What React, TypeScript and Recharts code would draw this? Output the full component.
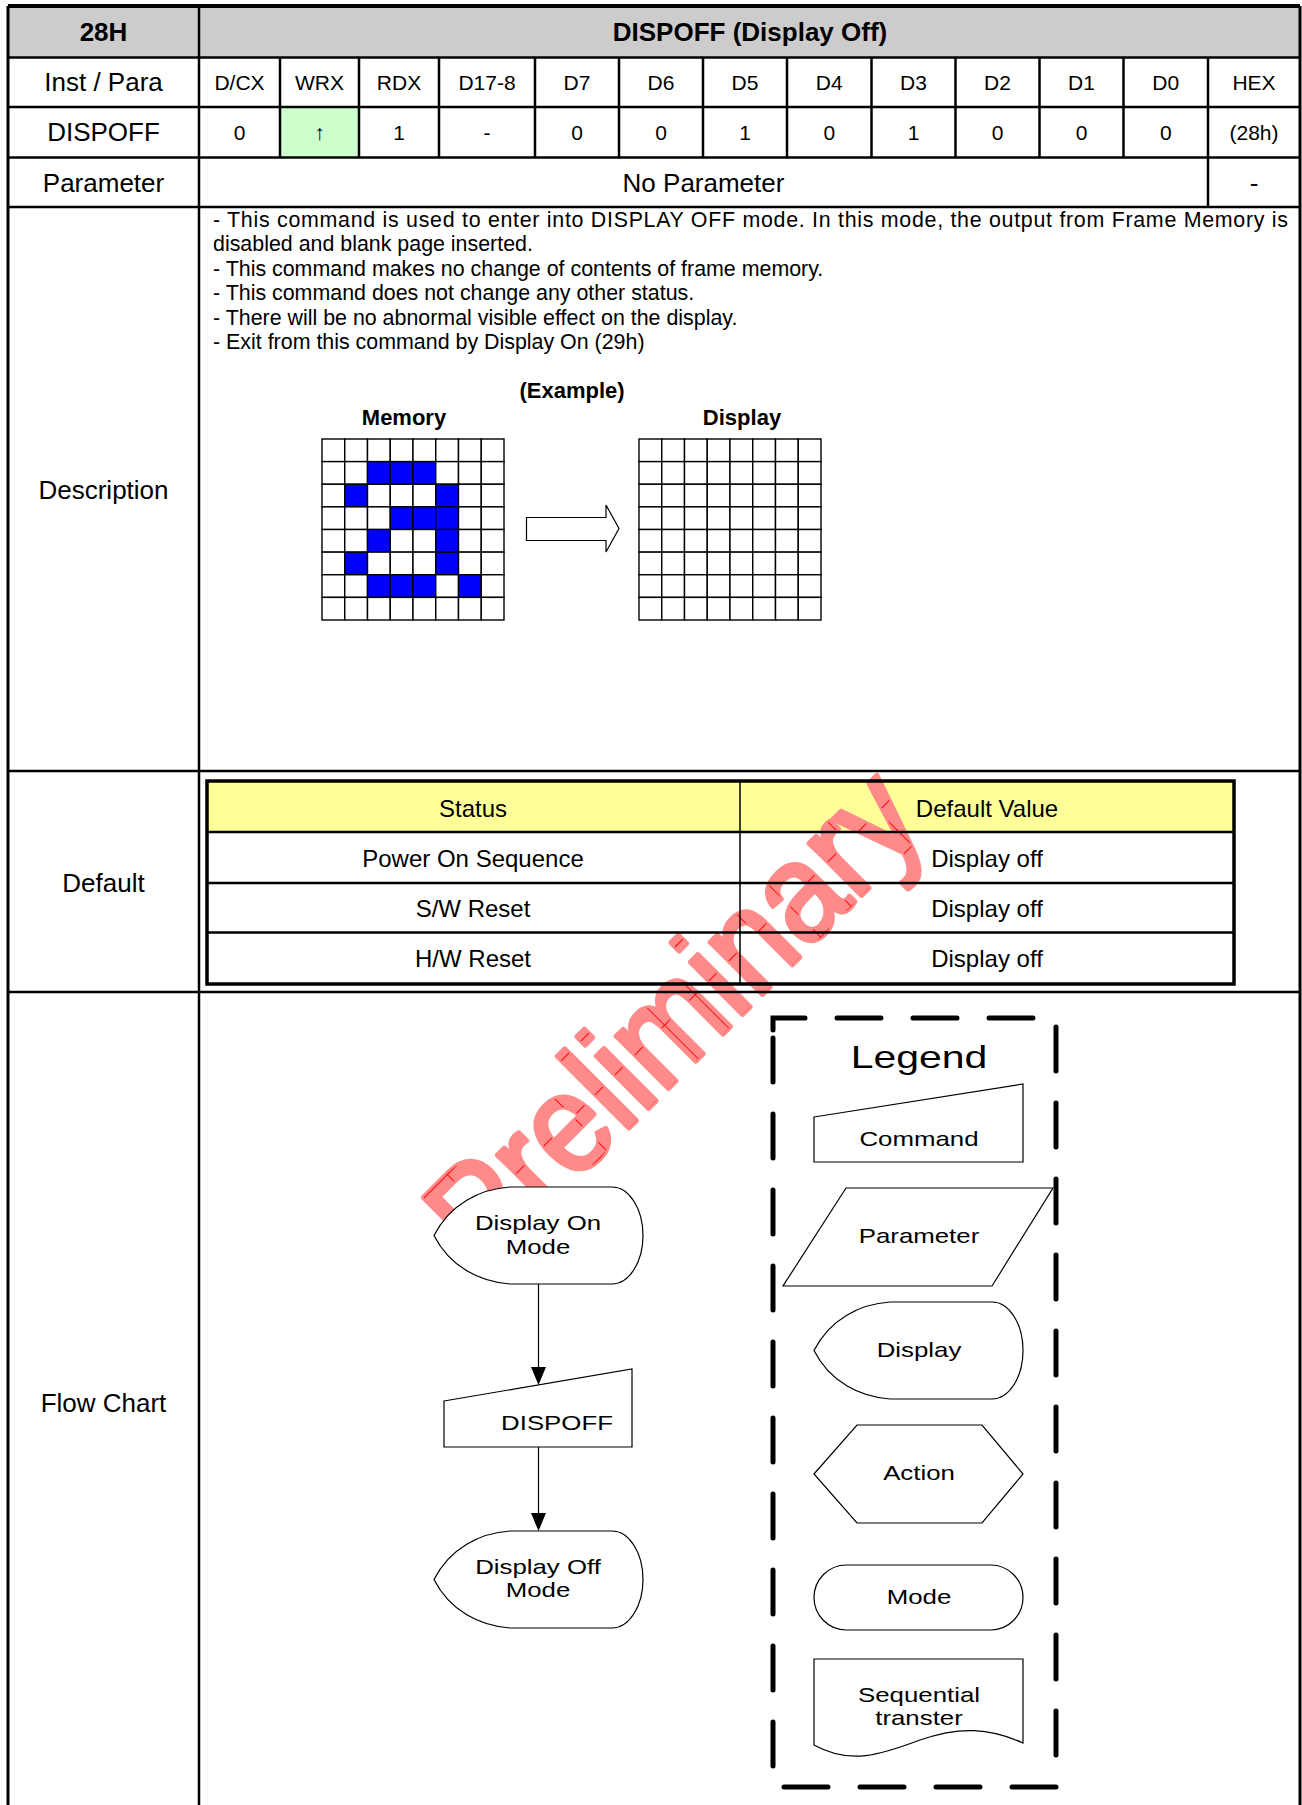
import React from "react";
import { ScatterChart, Scatter, XAxis, YAxis, Surface } from "recharts";

const FONT = "'Liberation Sans', Arial, Helvetica, sans-serif";

// ---- data ----
const commandCode = "28H";
const commandTitle = "DISPOFF (Display Off)";
const bitHeaders = ["D/CX", "WRX", "RDX", "D17-8", "D7", "D6", "D5", "D4", "D3", "D2", "D1", "D0", "HEX"];
const bitValues = ["0", "↑", "1", "-", "0", "0", "1", "0", "1", "0", "0", "0", "(28h)"];
const rowLabels = ["Inst / Para", "DISPOFF", "Parameter", "Description", "Default", "Flow Chart"];
const parameterText = "No Parameter";
const parameterHex = "-";
const descriptionLines = [
  "- This command is used to enter into DISPLAY OFF mode. In this mode, the output from Frame Memory is",
  "disabled and blank page inserted.",
  "- This command makes no change of contents of frame memory.",
  "- This command does not change any other status.",
  "- There will be no abnormal visible effect on the display.",
  "- Exit from this command by Display On (29h)",
];
const exampleTitles = ["(Example)", "Memory", "Display"];
const defaultHeaders = ["Status", "Default Value"];
const defaultStatus = ["Power On Sequence", "S/W Reset", "H/W Reset"];
const defaultValues = ["Display off", "Display off", "Display off"];
// 8x8 pixel maps, 1 = lit (blue)
const memoryRows = [
  "00000000",
  "00111000",
  "01000100",
  "00011100",
  "00100100",
  "01000100",
  "00111010",
  "00000000",
];
const displayRows = [
  "00000000",
  "00000000",
  "00000000",
  "00000000",
  "00000000",
  "00000000",
  "00000000",
  "00000000",
];
const flowSteps = [["Display On", "Mode"], ["DISPOFF"], ["Display Off", "Mode"]];
const legendTitle = "Legend";
const legendItems = [["Command"], ["Parameter"], ["Display"], ["Action"], ["Mode"], ["Sequential", "transter"]];
const watermark = "Preliminary";

// ---- layout ----
const colX = [199, 280, 359, 439, 535, 619, 703, 787, 871.5, 955.5, 1039.5, 1123.5, 1208, 1300];
const rowY = [6, 57.5, 107, 157.5, 207, 771, 992];
const labelY = [82, 132, 183, 490, 883, 1403];
const GRID_W = 184;
const GRID_H = 183;

const cellShape = (w: number, h: number) => (props: any) => {
  const { cx, cy, payload } = props;
  return (
    <rect
      x={cx - w / 2}
      y={cy - h / 2}
      width={w}
      height={h}
      fill={payload.on ? "#0000ff" : "#ffffff"}
      stroke="#000"
      strokeWidth={1.4}
    />
  );
};

function PixelGrid({ rows }: { rows: string[] }) {
  const data = rows.flatMap((r, row) =>
    r.split("").map((b, col) => ({ x: col + 0.5, y: row + 0.5, on: b === "1" }))
  );
  return (
    <ScatterChart width={GRID_W} height={GRID_H} margin={{ top: 1, right: 1, bottom: 1, left: 1 }}>
      <XAxis type="number" dataKey="x" domain={[0, 8]} hide />
      <YAxis type="number" dataKey="y" domain={[0, 8]} reversed hide />
      <Scatter data={data} shape={cellShape((GRID_W - 2) / 8, (GRID_H - 2) / 8)} isAnimationActive={false} />
    </ScatterChart>
  );
}

const T = (p: { x: number; y: number; s: number; t: string; b?: boolean }) => (
  <text
    x={p.x}
    y={p.y}
    fontSize={p.s}
    fontWeight={p.b ? "bold" : "normal"}
    textAnchor="middle"
    dominantBaseline="central"
    fontFamily={FONT}
    fill="#000"
  >
    {p.t}
  </text>
);

// flow chart labels are printed a little wide in the original
const Stretch = (p: { x: number; y: number; t: string; s?: number; sx?: number }) => (
  <text
    transform={`translate(${p.x},${p.y}) scale(${p.sx || 1.23},1)`}
    textAnchor="middle"
    fontSize={p.s || 21}
    fontFamily={FONT}
    fill="#000"
  >
    {p.t}
  </text>
);

const displayPath = (x: number, y: number) =>
  `M${x + 178},${y} A31,48.5 0 0 1 ${x + 178},${y + 97} L${x + 76},${y + 97} ` +
  `C${x + 46},${y + 95} ${x + 16},${y + 80} ${x},${y + 48.5} ` +
  `C${x + 16},${y + 17} ${x + 46},${y + 2} ${x + 76},${y} Z`;

const shapeStyle = { fill: "#fff", stroke: "#000", strokeWidth: 1.2 };

export default function App() {
  const wmTransform = "translate(484,1273) rotate(-45) scale(0.9,1)";
  return (
    <div style={{ position: "absolute", left: 0, top: 0, width: 1302, height: 1805, background: "#fff" }}>
      <Surface width={1302} height={1805} viewBox={{ x: 0, y: 0, width: 1302, height: 1805 }}>
        <defs>
          <clipPath id="wmClip">
            <rect x={0} y={770} width={1302} height={1035} />
          </clipPath>
          <pattern id="wmHatch" width={48} height={48} patternUnits="userSpaceOnUse">
            <path d="M0,0.5 H48 M0.5,0 V48" stroke="#ff0000" strokeWidth={1} fill="none" />
          </pattern>
        </defs>

        {/* fills */}
        <rect x={8} y={6} width={1292} height={51.5} fill="#cccccc" />
        <rect x={280} y={107} width={79} height={50.5} fill="#ccffcc" />
        <rect x={207} y={781} width={1027} height={51} fill="#ffff99" />

        {/* watermark */}
        <g clipPath="url(#wmClip)">
          <text
            transform={wmTransform}
            fontSize={140}
            fontFamily={FONT}
            fill="#ff8a8a"
            stroke="#ff8a8a"
            strokeWidth={5}
            strokeLinejoin="round"
          >
            {watermark}
          </text>
          <text transform={wmTransform} fontSize={140} fontFamily={FONT} fill="url(#wmHatch)">
            {watermark}
          </text>
        </g>

        {/* main table lines */}
        <g stroke="#000" strokeWidth={2.5}>
          <line x1={8} y1={6} x2={1300} y2={6} strokeWidth={4} />
          <line x1={8} y1={6} x2={8} y2={1805} strokeWidth={3} />
          <line x1={1300} y1={6} x2={1300} y2={1805} strokeWidth={3} />
          <line x1={199} y1={6} x2={199} y2={1805} />
          {rowY.slice(1).map((y, i) => (
            <line key={i} x1={8} y1={y} x2={1300} y2={y} />
          ))}
          {colX.slice(1, 12).map((x, i) => (
            <line key={i} x1={x} y1={rowY[1]} x2={x} y2={rowY[3]} />
          ))}
          <line x1={1208} y1={rowY[1]} x2={1208} y2={rowY[4]} />
        </g>

        {/* header texts */}
        <T x={103.5} y={32} s={26} b t={commandCode} />
        <T x={750} y={32} s={26} b t={commandTitle} />
        {rowLabels.map((l, i) => (
          <T key={l} x={103.5} y={labelY[i]} s={26} t={l} />
        ))}
        {bitHeaders.map((h, i) => (
          <T key={h} x={(colX[i] + colX[i + 1]) / 2} y={82} s={21} t={h} />
        ))}
        {bitValues.map((v, i) => (
          <T key={i} x={(colX[i] + colX[i + 1]) / 2} y={132} s={21} t={v} />
        ))}
        <T x={703.5} y={183} s={26} t={parameterText} />
        <T x={1254} y={183} s={26} t={parameterHex} />

        {/* description */}
        {descriptionLines.map((l, i) => (
          <text
            key={i}
            x={213}
            y={220 + i * 24.4}
            fontSize={21.4}
            fontFamily={FONT}
            dominantBaseline="central"
            textLength={i === 0 ? 1075 : undefined}
            lengthAdjust={i === 0 ? "spacing" : undefined}
          >
            {l}
          </text>
        ))}
        <T x={572} y={390} s={22} b t={exampleTitles[0]} />
        <T x={404} y={417} s={22} b t={exampleTitles[1]} />
        <T x={742} y={417} s={22} b t={exampleTitles[2]} />
        <polygon
          points="526.5,517.5 606,517.5 606,505 619,528.5 606,552 606,540.5 526.5,540.5"
          fill="#fff"
          stroke="#000"
          strokeWidth={1.2}
        />

        {/* default table */}
        <g stroke="#000">
          <rect x={207} y={781} width={1027} height={203} fill="none" strokeWidth={3.5} />
          {[832, 883, 932.5].map((y) => (
            <line key={y} x1={207} y1={y} x2={1234} y2={y} strokeWidth={2.5} />
          ))}
          <line x1={740} y1={781} x2={740} y2={984} strokeWidth={1.5} />
        </g>
        <T x={473} y={808} s={24} t={defaultHeaders[0]} />
        <T x={987} y={808} s={24} t={defaultHeaders[1]} />
        {defaultStatus.map((s, i) => (
          <T key={s} x={473} y={858 + i * 50} s={24} t={s} />
        ))}
        {defaultValues.map((s, i) => (
          <T key={i} x={987} y={858 + i * 50} s={24} t={s} />
        ))}

        {/* flow chart */}
        <path d={displayPath(434, 1187)} {...shapeStyle} />
        <line x1={538.5} y1={1284} x2={538.5} y2={1368} stroke="#000" strokeWidth={1.2} />
        <polygon points="531,1367 546,1367 538.5,1385" fill="#000" />
        <path d="M444,1401 L632,1369 L632,1447 L444,1447 Z" {...shapeStyle} />
        <line x1={538.5} y1={1447} x2={538.5} y2={1514} stroke="#000" strokeWidth={1.2} />
        <polygon points="531,1513 546,1513 538.5,1531" fill="#000" />
        <path d={displayPath(434, 1531)} {...shapeStyle} />
        <Stretch x={538} y={1230} t={flowSteps[0][0]} />
        <Stretch x={538} y={1254} t={flowSteps[0][1]} />
        <Stretch x={557} y={1430} t={flowSteps[1][0]} />
        <Stretch x={538} y={1574} t={flowSteps[2][0]} />
        <Stretch x={538} y={1597} t={flowSteps[2][1]} />

        {/* legend */}
        <path
          d="M773,1030 L773,1018 L1056,1018 L1056,1787 L773,1787 Z"
          fill="none"
          stroke="#000"
          strokeWidth={5}
          strokeDasharray="44 32"
          strokeLinecap="round"
        />
        <Stretch x={919} y={1068} t={legendTitle} s={32} sx={1.28} />
        <path d="M814,1117 L1023,1084 L1023,1162 L814,1162 Z" {...shapeStyle} />
        <path d="M846,1188 L1053,1188 L992,1286 L783,1286 Z" {...shapeStyle} />
        <path d={displayPath(814, 1302)} {...shapeStyle} />
        <path d="M814,1474 L857,1425 L982,1425 L1023,1474 L982,1523 L857,1523 Z" {...shapeStyle} />
        <rect x={814} y={1565} width={209} height={65} rx={32.5} ry={32.5} {...shapeStyle} />
        <path
          d="M814,1659 L1023,1659 L1023,1743 C990,1728 960,1726 920,1740 C880,1755 850,1765 814,1745 Z"
          {...shapeStyle}
        />
        <Stretch x={919} y={1146} t={legendItems[0][0]} />
        <Stretch x={919} y={1243} t={legendItems[1][0]} />
        <Stretch x={919} y={1357} t={legendItems[2][0]} />
        <Stretch x={919} y={1480} t={legendItems[3][0]} />
        <Stretch x={919} y={1604} t={legendItems[4][0]} />
        <Stretch x={919} y={1702} t={legendItems[5][0]} />
        <Stretch x={919} y={1725} t={legendItems[5][1]} />
      </Surface>

      <div style={{ position: "absolute", left: 321, top: 438 }}>
        <PixelGrid rows={memoryRows} />
      </div>
      <div style={{ position: "absolute", left: 638, top: 438 }}>
        <PixelGrid rows={displayRows} />
      </div>
    </div>
  );
}
